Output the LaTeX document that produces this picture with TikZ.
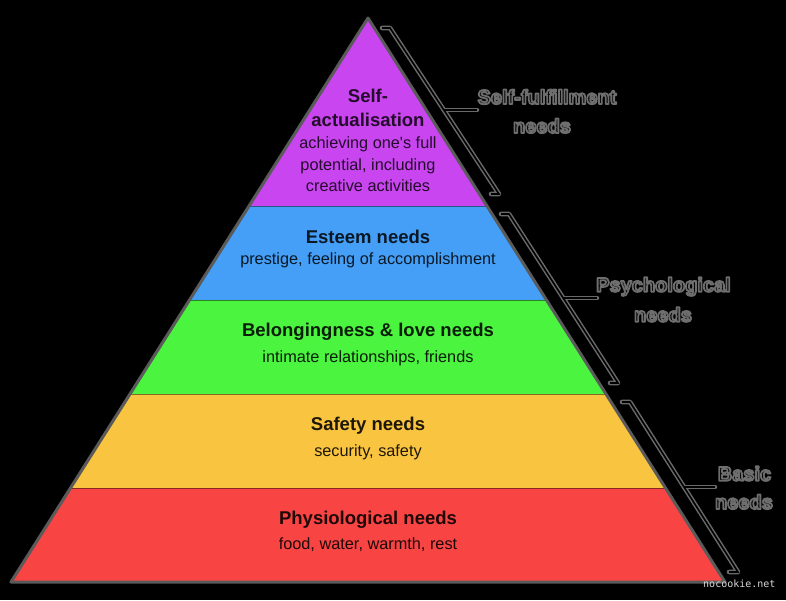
\documentclass[tikz,border=0pt]{standalone}
\usepackage{fontspec}
\setmainfont{Liberation Sans}
\newfontfamily\wmfont{DejaVu Sans Mono}
\usetikzlibrary{calc}

\definecolor{cSelf}{HTML}{C945EF}
\definecolor{cEst}{HTML}{459FF6}
\definecolor{cBel}{HTML}{4BF43F}
\definecolor{cSaf}{HTML}{F9C440}
\definecolor{cPhy}{HTML}{F94444}
\definecolor{outl}{HTML}{5A5A5A}
\definecolor{glowc}{HTML}{6A6A6A}
\definecolor{wmc}{HTML}{D8D8D8}

\tikzset{
  ttl/.style={anchor=base, inner sep=0pt, font=\bfseries\fontsize{18.5}{22}\selectfont},
  sub/.style={anchor=base, inner sep=0pt, font=\fontsize{16.3}{20}\selectfont},
  lbl/.style={anchor=base, inner sep=0pt, text=black, font=\bfseries\fontsize{20}{24}\selectfont},
  sepline/.style={draw=black, draw opacity=0.45, line width=1pt},
  brkouter/.style={draw=glowc, line width=4.6pt, line join=round, line cap=round},
  brkinner/.style={draw=black, line width=1.6pt, line join=miter},
}

% black text with a gray outline (fill + stroke text render mode)
\newcommand\outlined[1]{\special{pdf:literal direct 2 Tr 1.8 w 1 j 0.43 G}#1\special{pdf:literal direct 0 Tr}}

\begin{document}
\begin{tikzpicture}[x=1pt,y=-1pt]
\useasboundingbox (0,0) rectangle (786,600);
\fill[black] (0,0) rectangle (786,600);

% pyramid geometry
\coordinate (apex) at (368,18);
\coordinate (bl) at (11,582);
\coordinate (br) at (725,582);
\coordinate (l1) at ($(apex)!1/3!(bl)$);
\coordinate (r1) at ($(apex)!1/3!(br)$);
\coordinate (l2) at ($(apex)!1/2!(bl)$);
\coordinate (r2) at ($(apex)!1/2!(br)$);
\coordinate (l3) at ($(apex)!2/3!(bl)$);
\coordinate (r3) at ($(apex)!2/3!(br)$);
\coordinate (l4) at ($(apex)!5/6!(bl)$);
\coordinate (r4) at ($(apex)!5/6!(br)$);

\fill[cSelf] (apex) -- (l1) -- (r1) -- cycle;
\fill[cEst] (l1) -- (l2) -- (r2) -- (r1) -- cycle;
\fill[cBel] (l2) -- (l3) -- (r3) -- (r2) -- cycle;
\fill[cSaf] (l3) -- (l4) -- (r4) -- (r3) -- cycle;
\fill[cPhy] (l4) -- (bl) -- (br) -- (r4) -- cycle;

\draw[sepline] (l1) -- (r1);
\draw[sepline] (l2) -- (r2);
\draw[sepline] (l3) -- (r3);
\draw[sepline] (l4) -- (r4);

\draw[outl, line width=3pt, line join=round] (apex) -- (bl) -- (br) -- cycle;

% layer texts
\node[ttl, text=cSelf!18!black] (sa1) at (368,102.7) {Self-};
\node[ttl, text=cSelf!18!black] (sa2) at (368,126.7) {actualisation};
\node[sub, text=cSelf!18!black] (sa3) at (368,148.3) {achieving one\textquotesingle s full};
\node[sub, text=cSelf!18!black] (sa4) at (368,170) {potential, including};
\node[sub, text=cSelf!18!black] (sa5) at (368,191) {creative activities};

\node[ttl, text=cEst!15!black] (es1) at (368,243) {Esteem needs};
\node[sub, text=cEst!15!black] (es2) at (368,264) {prestige, feeling of accomplishment};

\node[ttl, text=cBel!12!black] (be1) at (368,336) {Belongingness \& love needs};
\node[sub, text=cBel!12!black] (be2) at (368,362) {intimate relationships, friends};

\node[ttl, text=cSaf!12!black] (sf1) at (368,430.7) {Safety needs};
\node[sub, text=cSaf!12!black] (sf2) at (368,456.7) {security, safety};

\node[ttl, text=cPhy!12!black] (ph1) at (368,524) {Physiological needs};
\node[sub, text=cPhy!12!black] (ph2) at (368,549.3) {food, water, warmth, rest};

% bracket coordinates
\coordinate (shT) at (382,28);
\coordinate (sT) at (390,28);
\coordinate (sB) at (499,194);
\coordinate (shB) at (491,194);
\coordinate (sM) at (444,110);
\coordinate (sE) at (477,110);

\coordinate (phT) at (501,214);
\coordinate (pT) at (509,214);
\coordinate (pB) at (618,383);
\coordinate (phB) at (610,383);
\coordinate (pM) at (563,298);
\coordinate (pE) at (597,298);

\coordinate (bhT) at (622,402);
\coordinate (bT) at (630,402);
\coordinate (bB) at (738,572);
\coordinate (bhB) at (729,572);
\coordinate (bM) at (684,487);
\coordinate (bE) at (715,487);

% brackets: gray halo then black core
\foreach \p in {s,p,b} {
  \draw[brkouter] (\p hT) -- (\p T) -- (\p B) -- (\p hB);
  \draw[brkouter] (\p M) -- (\p E);
}
\foreach \p in {s,p,b} {
  \draw[brkinner] (\p hT) -- (\p T) -- (\p B) -- (\p hB);
  \draw[brkinner] (\p M) -- (\p E);
}

% right-hand labels
\node[lbl] (sf)  at (547,104)    {\outlined{Self-fulfillment}};
\node[lbl] (sfn) at (542,133)    {\outlined{needs}};
\node[lbl] (ps)  at (663.5,291.7) {\outlined{Psychological}};
\node[lbl] (psn) at (663,321.7)  {\outlined{needs}};
\node[lbl] (ba)  at (744.5,480.7) {\outlined{Basic}};
\node[lbl] (ban) at (744,509)    {\outlined{needs}};

% watermark
\node[anchor=base west, inner sep=0pt, text=wmc, font=\wmfont\fontsize{10}{12}\selectfont] (wm) at (703,587) {nocookie.net};
\end{tikzpicture}
\end{document}
